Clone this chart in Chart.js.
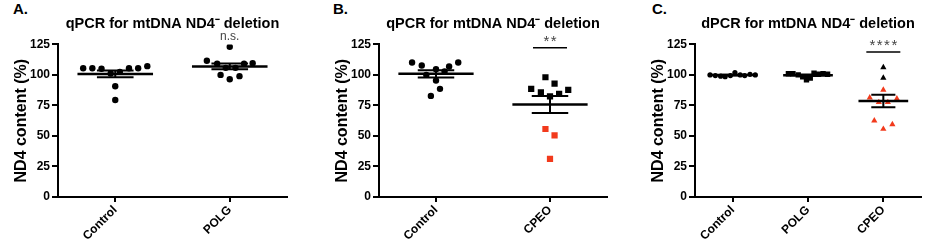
<!DOCTYPE html>
<html>
<head>
<meta charset="utf-8">
<script src="https://cdn.jsdelivr.net/npm/chart.js@4.4.0/dist/chart.umd.min.js"></script>
<style>
  body { margin: 0; background: #fff; width: 925px; height: 248px; overflow: hidden; position: relative; }
  canvas { position: absolute; top: 0; }
  .panel-letter { position: absolute; top: 0; font: bold 15px 'Liberation Sans', Arial, sans-serif; color: #000; }
</style>
</head>
<body>
<div class="panel-letter" style="left:13px">A.</div>
<div class="panel-letter" style="left:333px">B.</div>
<div class="panel-letter" style="left:652px">C.</div>
<canvas id="chart-a" width="300" height="248" style="left:0px"></canvas>
<canvas id="chart-b" width="300" height="248" style="left:321px"></canvas>
<canvas id="chart-c" width="288" height="248" style="left:637px"></canvas>
<script>
// ------------------------------------------------------------
// Data (ND4 content, % of control)
// jitter arrays = horizontal offset of each dot inside its column
// ------------------------------------------------------------
var yTickValues = [0, 25, 50, 75, 100, 125];
var yTitle = 'ND4 content (%)';

// Panel A - qPCR, Control vs POLG
var titleA = 'qPCR for mtDNA ND4\u207B deletion';
var catsA = ['Control', 'POLG'];
var aControl = [105.5, 105.5, 105, 101.2, 102.5, 105.5, 105.5, 107.2, 90.7, 79.5];
var aControlJitter = [-0.28, -0.2, -0.12, -0.04, 0.04, 0.12, 0.2, 0.28, 0, 0];
var aPolg = [111.6, 109.1, 123.1, 105.8, 105.8, 100, 96.5, 99, 109.1, 109.6];
var aPolgJitter = [-0.2, -0.11, 0, -0.035, 0.05, -0.08, 0, 0.085, 0.125, 0.2];

// Panel B - qPCR, Control vs CPEO
var titleB = 'qPCR for mtDNA ND4\u207B deletion';
var catsB = ['Control', 'CPEO'];
var bControl = [110.2, 107.7, 100, 104.7, 95.4, 88.6, 82.8, 102.8, 106.9, 110.2];
var bControlJitter = [-0.21, -0.125, -0.085, 0, 0, 0.035, -0.045, 0.075, 0.115, 0.195];
var bCpeo = [98.1, 92.9, 88.6, 85.8, 82.5, 84.4, 87.7, 55.7, 50.4, 31.2];
var bCpeoJitter = [-0.04, 0.04, -0.165, -0.08, 0, 0.08, 0.16, -0.04, 0.04, 0];
var bCpeoRed = [0, 0, 0, 0, 0, 0, 0, 1, 1, 1];

// Panel C - dPCR, Control vs POLG vs CPEO
var titleC = 'dPCR for mtDNA ND4\u207B deletion';
var catsC = ['Control', 'POLG', 'CPEO'];
var cControl = [100, 99.5, 99, 98.5, 99.5, 102, 100, 99.5, 100.5, 100];
var cControlJitter = [-0.3, -0.23, -0.16, -0.1, -0.03, 0.03, 0.1, 0.16, 0.23, 0.3];
var cPolg = [101, 101, 100, 98.5, 96, 97.5, 101.5, 100.5, 101, 100.5];
var cPolgJitter = [-0.26, -0.2, -0.13, -0.07, -0.02, 0.03, 0.08, 0.14, 0.2, 0.26];
var cCpeo = [106.1, 97.6, 87.7, 81.4, 80.6, 77.6, 77.6, 62.5, 59.5, 55.7];
var cCpeoJitter = [0, 0, 0, -0.18, 0.18, -0.06, 0.06, -0.12, 0.12, 0];
var cCpeoRed = [0, 0, 1, 1, 1, 1, 1, 1, 1, 1];

// significance marks: column, label, level (y value), with bar?
var sigA = { cat: 1, label: 'n.s.', level: 131, bar: false };
var sigB = { cat: 1, label: '**', level: 122.3, bar: true };
var sigC = { cat: 2, label: '****', level: 118.7, bar: true };

// ------------------------------------------------------------
var FONT = "'Liberation Sans', Arial, sans-serif";
var RED = '#f23a1c';
Chart.defaults.font.family = FONT;
Chart.defaults.color = '#000';

function avg(a) { return a.reduce(function(s, v) { return s + v; }, 0) / a.length; }
function sem(a) {
  var m = avg(a);
  var ss = a.reduce(function(s, v) { return s + (v - m) * (v - m); }, 0);
  return Math.sqrt(ss / (a.length - 1)) / Math.sqrt(a.length);
}

// mean line + SEM whiskers over each column, then the significance label
var meanSemPlugin = {
  id: 'meanSem',
  afterDatasetsDraw: function(chart, args, opts) {
    var ctx = chart.ctx, xs = chart.scales.x, ys = chart.scales.y;
    ctx.save();
    ctx.strokeStyle = '#000';
    ctx.lineCap = 'butt';
    chart.data.datasets.forEach(function(ds, i) {
      var vals = ds.data.map(function(p) { return p.y; });
      var m = avg(vals), s = sem(vals);
      var ym = ys.getPixelForValue(m);
      var yt = ys.getPixelForValue(m + s), yb = ys.getPixelForValue(m - s);
      var xc = xs.getPixelForValue(i);
      ctx.lineWidth = 2.5;
      ctx.beginPath();
      ctx.moveTo(xs.getPixelForValue(i - 0.33), ym);
      ctx.lineTo(xs.getPixelForValue(i + 0.33), ym);
      ctx.stroke();
      ctx.lineWidth = 2;
      var cl = xs.getPixelForValue(i - 0.16), cr = xs.getPixelForValue(i + 0.16);
      ctx.beginPath();
      ctx.moveTo(xc, yt); ctx.lineTo(xc, yb);
      ctx.moveTo(cl, yt); ctx.lineTo(cr, yt);
      ctx.moveTo(cl, yb); ctx.lineTo(cr, yb);
      ctx.stroke();
    });
    var sig = opts.sig;
    if (sig) {
      var x = xs.getPixelForValue(sig.cat);
      var y = ys.getPixelForValue(sig.level);
      ctx.fillStyle = '#444';
      ctx.textAlign = 'center';
      ctx.textBaseline = 'middle';
      if (sig.bar) {
        ctx.lineWidth = 1.5;
        ctx.beginPath();
        ctx.moveTo(x - 17, y); ctx.lineTo(x + 17, y);
        ctx.stroke();
        ctx.font = '15px ' + FONT;
        ctx.letterSpacing = '1.5px';
        ctx.fillText(sig.label, x + 0.75, y - 6);
        ctx.letterSpacing = '0px';
      } else {
        ctx.font = '12px ' + FONT;
        ctx.fillText(sig.label, x, y);
      }
    }
    ctx.restore();
  }
};

function makeGroup(values, jitter, i, shape, radius, red) {
  return {
    data: values.map(function(v, k) { return { x: i + jitter[k], y: v }; }),
    pointStyle: shape,
    pointRadius: radius,
    pointBorderWidth: 0,
    pointBackgroundColor: values.map(function(v, k) { return red && red[k] ? RED : '#000'; }),
    showLine: false
  };
}

function makeDotPlot(id, title, cats, datasets, sig, padRight) {
  var canvas = document.getElementById(id);
  return new Chart(canvas.getContext('2d'), {
    type: 'scatter',
    data: { datasets: datasets },
    plugins: [meanSemPlugin],
    options: {
      responsive: false,
      animation: false,
      devicePixelRatio: 1,
      layout: { padding: { left: 0, right: padRight, top: 0, bottom: 0 } },
      plugins: {
        legend: { display: false },
        tooltip: { enabled: false },
        title: {
          display: true, text: title, fullSize: false, color: '#000',
          font: { size: 14.5, weight: 'bold' },
          padding: { top: 15, bottom: 12 }
        },
        meanSem: { sig: sig }
      },
      scales: {
        x: {
          type: 'linear',
          min: -0.5,
          max: cats.length - 0.5,
          afterBuildTicks: function(axis) {
            axis.ticks = cats.map(function(c, i) { return { value: i }; });
          },
          afterFit: function(axis) { axis.height = 51; },
          ticks: {
            callback: function(v) { return cats[v]; },
            minRotation: 45, maxRotation: 45,
            padding: 1,
            color: '#000',
            font: { size: 12, weight: 'bold' }
          },
          grid: { drawOnChartArea: false, drawTicks: true, tickLength: 5, color: '#000', lineWidth: 2 },
          border: { display: true, color: '#000', width: 2 }
        },
        y: {
          min: 0, max: 125,
          afterBuildTicks: function(axis) {
            axis.ticks = yTickValues.map(function(v) { return { value: v }; });
          },
          afterFit: function(axis) { axis.width = 58; },
          ticks: { padding: 2, color: '#000', font: { size: 12, weight: 'bold' } },
          grid: { drawOnChartArea: false, drawTicks: true, tickLength: 6, color: '#000', lineWidth: 2 },
          border: { display: true, color: '#000', width: 2 },
          title: {
            display: true, text: yTitle, color: '#000',
            font: { size: 16, weight: 'bold' },
            padding: { top: 12, bottom: 0 }
          }
        }
      }
    }
  });
}

makeDotPlot('chart-a', titleA, catsA, [
  makeGroup(aControl, aControlJitter, 0, 'circle', 3.2),
  makeGroup(aPolg, aPolgJitter, 1, 'circle', 3.2)
], sigA, 13);

makeDotPlot('chart-b', titleB, catsB, [
  makeGroup(bControl, bControlJitter, 0, 'circle', 3.2),
  makeGroup(bCpeo, bCpeoJitter, 1, 'rect', 4.4, bCpeoRed)
], sigB, 14);

makeDotPlot('chart-c', titleC, catsC, [
  makeGroup(cControl, cControlJitter, 0, 'circle', 2.6),
  makeGroup(cPolg, cPolgJitter, 1, 'rect', 3.8),
  makeGroup(cCpeo, cCpeoJitter, 2, 'triangle', 3.6, cCpeoRed)
], sigC, 1);
</script>
</body>
</html>
